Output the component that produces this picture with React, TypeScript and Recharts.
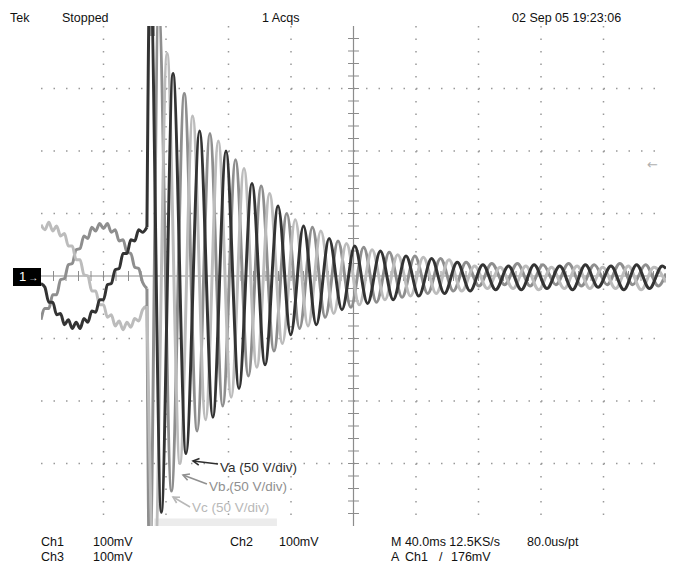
import React from 'react';
import {
  LineChart,
  Line,
  XAxis,
  YAxis,
  CartesianGrid,
  ReferenceLine,
  ReferenceArea
} from 'recharts';

// time in ms (40 ms/div), voltage in V (50 V/div)
const PRE_T = [0, 2.5, 5, 7.5, 10, 12.5, 15, 17.5, 20, 22.5, 25, 27.5, 30, 32.5, 35, 37.5, 40, 42.5, 45, 47.5, 50, 52.5, 55, 57.5, 60, 62.5, 65, 67.8];
const VA_PRE = [-6, -9, -21, -21, -31, -30, -39, -35, -42, -37, -42, -34, -37, -28, -29, -19, -19, -7, -6, 5, 6, 18, 18, 29, 28, 37, 35, 39];
const VB_PRE = [-35, -26, -26, -15, -15, -3, -2, 9, 10, 21, 22, 32, 30, 39, 36, 42, 38, 42, 35, 37, 28, 29, 19, 18, 7, 6, -5, -10];
const VC_PRE = [41, 37, 43, 36, 40, 32, 34, 24, 24, 13, 13, 1, 0, -12, -12, -23, -23, -33, -31, -40, -36, -43, -37, -41, -34, -36, -27, -24];

// after the fault: [time, value] at every peak / trough
const VA_POST: [number, number][] = [
  [67.8, 39], [69.8, 250], [77.0, -189], [84.5, 162], [92.8, -142], [101.5, 116], [110.0, -113],
  [118.4, 100], [126.7, -90], [135.0, 74], [143.4, -71], [151.7, 56], [159.8, -47], [168.0, 40],
  [176.2, -39], [184.4, 30], [192.6, -27], [200.8, 24], [209.0, -22], [217.2, 20], [225.4, -19],
  [233.6, 16], [241.8, -16], [250.0, 14], [258.2, -14], [266.4, 11], [274.6, -12], [282.8, 9],
  [291.0, -11], [299.2, 8], [307.4, -11], [315.6, 9], [323.8, -10], [332.0, 8], [340.2, -11],
  [348.4, 9], [356.6, -9], [364.8, 8], [373.0, -11], [381.2, 9], [389.4, -10], [397.6, 8], [400, 6]
];
const VB_POST: [number, number][] = [
  [67.8, -10], [69.5, -240], [75.3, 215], [83.5, -172], [91.7, 146], [99.9, -124], [108.1, 114],
  [116.3, -104], [124.5, 93], [132.7, -80], [140.9, 72], [149.1, -60], [157.3, 50], [165.5, -42],
  [173.7, 39], [181.9, -33], [190.1, 28], [198.3, -25], [206.5, 23], [214.7, -21], [222.9, 19],
  [231.1, -17], [239.3, 16], [247.5, -14], [255.7, 14], [263.9, -12], [272.1, 11], [280.3, -8],
  [288.5, 10], [296.7, -7], [304.9, 10], [313.1, -8], [321.3, 9], [329.5, -7], [337.7, 10],
  [345.9, -8], [354.1, 9], [362.3, -7], [370.5, 10], [378.7, -7], [386.9, 9], [395.1, -8], [400, 2]
];
const VC_POST: [number, number][] = [
  [67.8, -24], [72.5, -245], [80.7, 178], [88.9, -150], [97.1, 128], [105.3, -115], [113.5, 108],
  [121.7, -97], [129.9, 86], [138.1, -73], [146.3, 66], [154.5, -54], [162.7, 45], [170.9, -40],
  [179.1, 36], [187.3, -30], [195.5, 26], [203.7, -23], [211.9, 21], [220.1, -19], [228.3, 17],
  [236.5, -16], [244.7, 15], [252.9, -14], [261.1, 13], [269.3, -12], [277.5, 8], [285.7, -10],
  [293.9, 7], [302.1, -10], [310.3, 8], [318.5, -11], [326.7, 7], [334.9, -10], [343.1, 8],
  [351.3, -10], [359.5, 7], [367.7, -10], [375.9, 8], [384.1, -11], [392.3, 7], [400, -5]
];

// graticule
const X_MINOR = Array.from({ length: 51 }, (_, i) => i * 8);
const Y_MINOR = Array.from({ length: 41 }, (_, i) => -200 + i * 10);
const X_MAJOR = [40, 80, 120, 160, 240, 280, 320, 360];
const Y_MAJOR = [-150, -100, -50, 50, 100, 150];

const NOTES = [
  { text: 'Va (50 V/div)', from: [113.3, -150.4], to: [97.3, -148], color: '#2e2e2e', dy: 8 },
  { text: 'Vb.(50 V/div)', from: [106.2, -166.4], to: [90.9, -159.2], color: '#909090', dy: 7 },
  { text: 'Vc (50 V/div)', from: [95.4, -184.8], to: [84.5, -176.8], color: '#b8b8b8', dy: 5 }
];

const TOP_TEXT = [
  { text: 'Tek', x: 10, y: 18 },
  { text: 'Stopped', x: 62, y: 18 },
  { text: '1 Acqs', x: 262, y: 18 },
  { text: '02 Sep 05 19:23:06', x: 512, y: 18 },
  { text: 'Ch1', x: 41, y: 542 },
  { text: '100mV', x: 93, y: 542 },
  { text: 'Ch2', x: 230, y: 542 },
  { text: '100mV', x: 279, y: 542 },
  { text: 'M 40.0ms 12.5KS/s', x: 391, y: 542 },
  { text: '80.0us/pt', x: 527, y: 542 },
  { text: 'Ch3', x: 41, y: 557 },
  { text: '100mV', x: 93, y: 557 },
  { text: 'A', x: 391, y: 557 },
  { text: 'Ch1', x: 405, y: 557 },
  { text: '/', x: 439, y: 557 },
  { text: '176mV', x: 451, y: 557 }
];

const GRID = '#8c8c8c';
const VA_COLOR = '#333333';
const VB_COLOR = '#8e8e8e';
const VC_COLOR = '#bcbcbc';

const fromArrays = (ts: number[], vs: number[]) => ts.map((t, i) => ({ t, v: vs[i] }));
const fromPairs = (pairs: [number, number][]) => pairs.map(([t, v]) => ({ t, v }));

const tickTop = (p: any) => {
  const len = p.payload.value % 40 === 0 ? 8 : 5;
  return <line x1={p.x} x2={p.x} y1={p.y} y2={p.y + len} stroke={GRID} />;
};
const tickBottom = (p: any) => {
  const len = p.payload.value % 40 === 0 ? 8 : 5;
  return <line x1={p.x} x2={p.x} y1={p.y} y2={p.y - len} stroke={GRID} />;
};
const tickLeft = (p: any) => {
  const len = p.payload.value % 50 === 0 ? 8 : 5;
  return <line x1={p.x} x2={p.x + len} y1={p.y} y2={p.y} stroke={GRID} />;
};
const tickRight = (p: any) => {
  const len = p.payload.value % 50 === 0 ? 8 : 5;
  return <line x1={p.x} x2={p.x - len} y1={p.y} y2={p.y} stroke={GRID} />;
};

const arrowShape = (color: string, text: string, dy: number) => (p: any) => {
  const { x1, y1, x2, y2 } = p;
  const ang = Math.atan2(y1 - y2, x1 - x2);
  const L = 7;
  const ax = x2 + L * Math.cos(ang + 0.5);
  const ay = y2 + L * Math.sin(ang + 0.5);
  const bx = x2 + L * Math.cos(ang - 0.5);
  const by = y2 + L * Math.sin(ang - 0.5);
  return (
    <g>
      <line x1={x1} y1={y1} x2={x2} y2={y2} stroke={color} strokeWidth={1.6} />
      <polyline points={`${ax},${ay} ${x2},${y2} ${bx},${by}`} fill="none" stroke={color} strokeWidth={1.6} />
      <text x={x1 + 2} y={y1 + dy} fill={color} fontSize={13.5} fontFamily="'Liberation Sans', Arial, sans-serif">
        {text}
      </text>
    </g>
  );
};

const App: React.FC = () => {
  const lineCommon = {
    xAxisId: 'b',
    yAxisId: 'l',
    dataKey: 'v',
    type: 'monotone' as const,
    dot: false,
    activeDot: false,
    isAnimationActive: false
  };

  return (
    <div style={{ position: 'absolute', left: 0, top: 0, width: 673, height: 565, background: '#fff', overflow: 'hidden' }}>
      <LineChart width={673} height={565} margin={{ top: 26, right: 7, bottom: 39, left: 41 }}>
        <CartesianGrid
          xAxisId="b"
          yAxisId="l"
          horizontalValues={Y_MAJOR}
          verticalValues={X_MAJOR}
          stroke="#999"
          strokeWidth={1.5}
          strokeDasharray="1.5 11"
        />
        <XAxis xAxisId="b" dataKey="t" type="number" domain={[0, 400]} allowDataOverflow ticks={X_MINOR} interval={0}
          height={0} tickSize={0} tickMargin={0} tickLine={false} axisLine={{ stroke: GRID }} tick={tickBottom} />
        <XAxis xAxisId="t" orientation="top" dataKey="t" type="number" domain={[0, 400]} allowDataOverflow ticks={X_MINOR} interval={0}
          height={0} tickSize={0} tickMargin={0} tickLine={false} axisLine={{ stroke: GRID }} tick={tickTop} />
        <YAxis yAxisId="l" type="number" domain={[-200, 200]} allowDataOverflow ticks={Y_MINOR} interval={0}
          width={0} tickSize={0} tickMargin={0} tickLine={false} axisLine={{ stroke: GRID }} tick={tickLeft} />
        <YAxis yAxisId="r" orientation="right" type="number" domain={[-200, 200]} allowDataOverflow ticks={Y_MINOR} interval={0}
          width={0} tickSize={0} tickMargin={0} tickLine={false} axisLine={{ stroke: GRID }} tick={tickRight} />

        {/* record bar + trigger marker on the rulers */}
        <ReferenceArea xAxisId="b" yAxisId="l" x1={72.5} x2={151} y1={-200} y2={-194} fill="#ececec" fillOpacity={1} stroke="none" />
        <ReferenceArea xAxisId="b" yAxisId="l" x1={69} x2={73} y1={192} y2={200} fill="#999" fillOpacity={1} stroke="none" />

        {/* center cross */}
        <ReferenceLine xAxisId="b" yAxisId="l" y={0} stroke={GRID} strokeWidth={1.2} />
        <ReferenceLine xAxisId="b" yAxisId="l" x={200} stroke={GRID} strokeWidth={1.2} />
        {X_MINOR.filter((t) => t > 0 && t < 400 && t !== 200).map((t) => (
          <ReferenceLine key={`cx${t}`} xAxisId="b" yAxisId="l" segment={[{ x: t, y: -4 }, { x: t, y: 4 }]} stroke={GRID} />
        ))}
        {Y_MINOR.filter((v) => v > -200 && v < 200 && v !== 0).map((v) => (
          <ReferenceLine key={`cy${v}`} xAxisId="b" yAxisId="l" segment={[{ x: 196.5, y: v }, { x: 203.5, y: v }]} stroke={GRID} />
        ))}

        <Line {...lineCommon} data={fromArrays(PRE_T, VB_PRE)} stroke={VB_COLOR} strokeWidth={3} />
        <Line {...lineCommon} data={fromArrays(PRE_T, VC_PRE)} stroke={VC_COLOR} strokeWidth={3} />
        <Line {...lineCommon} data={fromArrays(PRE_T, VA_PRE)} stroke={VA_COLOR} strokeWidth={3} />
        <Line {...lineCommon} data={fromPairs(VB_POST)} stroke={VB_COLOR} strokeWidth={3} />
        <Line {...lineCommon} data={fromPairs(VC_POST)} stroke={VC_COLOR} strokeWidth={3} />
        <Line {...lineCommon} data={fromPairs(VA_POST)} stroke={VA_COLOR} strokeWidth={3} />

        {NOTES.map((n) => (
          <ReferenceLine
            key={n.text}
            xAxisId="b"
            yAxisId="l"
            segment={[{ x: n.from[0], y: n.from[1] }, { x: n.to[0], y: n.to[1] }]}
            shape={arrowShape(n.color, n.text, n.dy)}
          />
        ))}
      </LineChart>

      {TOP_TEXT.map((s, i) => (
        <span
          key={i}
          style={{
            position: 'absolute',
            left: s.x,
            top: s.y - 7,
            fontFamily: "'Liberation Sans', Arial, sans-serif",
            fontSize: 12.5,
            lineHeight: '14px',
            color: '#111',
            whiteSpace: 'pre'
          }}
        >
          {s.text}
        </span>
      ))}

      {/* channel 1 ground marker */}
      <div style={{ position: 'absolute', left: 13, top: 268, width: 28, height: 18, background: '#000', color: '#fff',
        fontFamily: "'Liberation Sans', Arial, sans-serif", fontSize: 13, lineHeight: '18px', paddingLeft: 6, boxSizing: 'border-box' }}>
        1<span style={{ fontSize: 10, marginLeft: 2 }}>→</span>
      </div>
      {/* trigger level marker */}
      <span style={{ position: 'absolute', left: 647, top: 158, color: '#b0b0b0', fontFamily: "'DejaVu Sans', sans-serif", fontSize: 13, lineHeight: '14px' }}>
        ←
      </span>
    </div>
  );
};

export default App;
